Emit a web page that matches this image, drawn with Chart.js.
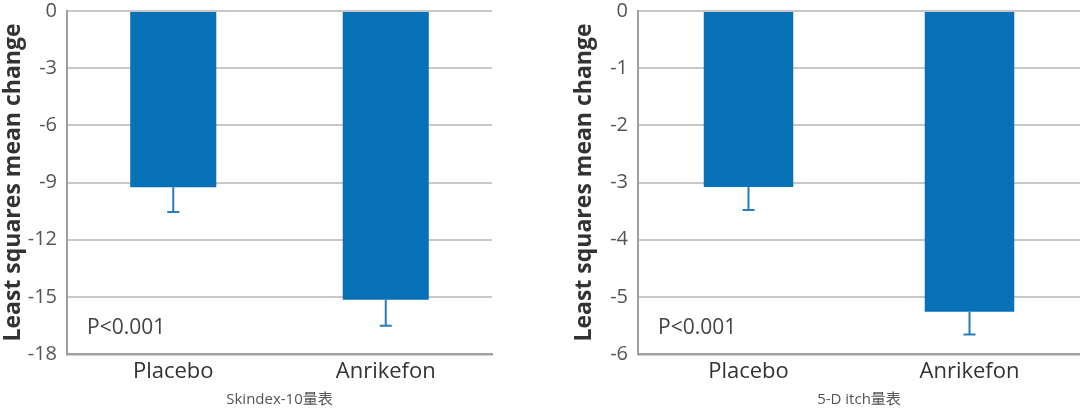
<!DOCTYPE html>
<html>
<head>
<meta charset="utf-8">
<script src="https://cdn.jsdelivr.net/npm/chart.js@4"></script>
<style>
  body { margin: 0; background: #fff; width: 1080px; height: 411px; overflow: hidden; position: relative; }
  .box { position: absolute; top: -11px; height: 422px; }
</style>
</head>
<body>
<div class="box" style="left:0;width:500px"><canvas id="left"></canvas></div>
<div class="box" style="left:540px;width:540px"><canvas id="right"></canvas></div>
<script>
const categories = ['Placebo', 'Anrikefon'];

// Skindex-10 panel
const skindexMeans = [-9.25, -15.15];
const skindexErrors = [1.3, 1.37];
const skindexTicks = { min: -18, max: 0, step: 3 };

// 5-D itch panel
const itchMeans = [-3.08, -5.26];
const itchErrors = [0.4, 0.4];
const itchTicks = { min: -6, max: 0, step: 1 };

const pLabel = 'P<0.001';

const barColor = '#0870b7';
const errColor = '#2a7bbb';
const font = '"Open Sans", "Noto Sans CJK SC", sans-serif';

// draws one-sided (downward) error bars from dataset.errors
const errorBars = {
  id: 'errorBars',
  afterDatasetsDraw(chart) {
    const ctx = chart.ctx;
    const yScale = chart.scales.y;
    chart.data.datasets.forEach((ds, di) => {
      chart.getDatasetMeta(di).data.forEach((bar, i) => {
        const y0 = bar.y;
        const y1 = yScale.getPixelForValue(ds.data[i] - ds.errors[i]);
        ctx.save();
        ctx.strokeStyle = errColor;
        ctx.lineWidth = 2;
        ctx.beginPath();
        ctx.moveTo(bar.x, y0);
        ctx.lineTo(bar.x, y1);
        ctx.moveTo(bar.x - 6, y1);
        ctx.lineTo(bar.x + 6, y1);
        ctx.stroke();
        ctx.restore();
      });
    });
  }
};

const pValue = {
  id: 'pValue',
  afterDraw(chart, args, opts) {
    const ctx = chart.ctx;
    ctx.save();
    ctx.fillStyle = '#444';
    ctx.font = '21px ' + font;
    ctx.textBaseline = 'middle';
    ctx.fillText(opts.text, chart.chartArea.left + 20, chart.chartArea.bottom - 26);
    ctx.restore();
  }
};

function makeChart(id, means, errors, ticks, subtitle, padLeft, padRight) {
  return new Chart(document.getElementById(id), {
    type: 'bar',
    data: {
      labels: categories,
      datasets: [{
        data: means,
        errors: errors,
        backgroundColor: barColor,
        barPercentage: 0.405,
        categoryPercentage: 1.0
      }]
    },
    options: {
      responsive: true,
      maintainAspectRatio: false,
      animation: false,
      layout: { padding: { left: padLeft, right: padRight, top: 0, bottom: 0 } },
      plugins: {
        legend: { display: false },
        tooltip: { enabled: false },
        pValue: { text: pLabel }
      },
      scales: {
        x: {
          grid: { display: false, drawTicks: false },
          border: { color: '#a0a0a0', width: 2.5 },
          ticks: { color: '#333', font: { family: font, size: 22 }, padding: 5 },
          title: {
            display: true,
            text: subtitle,
            color: '#555',
            font: { family: font, size: 15 },
            padding: { top: 0, bottom: 2 }
          },
          afterFit(scale) { scale.height = 57; }
        },
        y: {
          min: ticks.min,
          max: ticks.max,
          ticks: {
            stepSize: ticks.step,
            color: '#555',
            font: { family: font, size: 20 },
            padding: 10
          },
          grid: { color: '#c8c8c8', lineWidth: 2, drawTicks: false },
          border: { color: '#a0a0a0', width: 2 },
          title: {
            display: true,
            text: 'Least squares mean change',
            color: '#333',
            font: { family: font, size: 23, weight: 'bold' },
            padding: { top: 0, bottom: 0 }
          },
          afterFit(scale) { scale.width = 67; }
        }
      }
    },
    plugins: [errorBars, pValue]
  });
}

makeChart('left', skindexMeans, skindexErrors, skindexTicks, 'Skindex-10量表', 0, 8);
makeChart('right', itchMeans, itchErrors, itchTicks, '5-D itch量表', 31, 0);
</script>
</body>
</html>
